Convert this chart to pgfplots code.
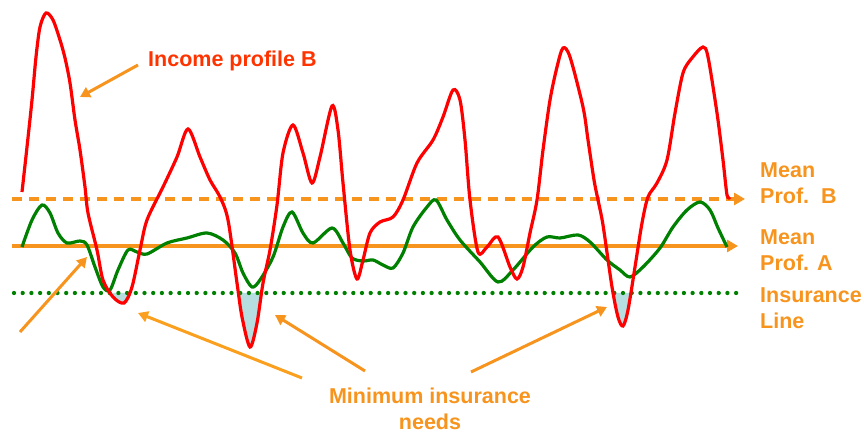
\documentclass[border=0pt]{standalone}
\usepackage{pgfplots}
\pgfplotsset{compat=1.18}
\usepgfplotslibrary{fillbetween}
\usetikzlibrary{arrows.meta}
\usepackage{fontspec}
\setmainfont{Liberation Sans}

\definecolor{profred}{RGB}{255,0,0}
\definecolor{profgreen}{RGB}{0,128,0}
\definecolor{meanorange}{RGB}{247,148,30}
\definecolor{arroworange}{RGB}{250,160,30}
\definecolor{titlered}{RGB}{255,51,0}
\definecolor{needfill}{RGB}{182,221,224}

% pixel coordinates of the reference, y measured from the bottom
\pgfplotstableread{
x y
22 243
27 288
32 335
36 378
40 408
46 422
53 415
60 395
65 377
70 352
75 315
80 285
85 248
88 222
97 185
103 155
113 138
124 132
132 148
140 185
147 215
163 248
177 278
188 306
200 278
210 255
220 238
228 215
237 152
242 118
250 88
257 112
263 152
270 185
277 230
283 282
293 310
303 282
312 252
320 278
332 329
338 305
343 252
350 185
357 156
363 175
370 202
380 213
393 218
403 235
417 272
433 295
443 318
453 345
460 335
465 295
470 235
478 183
487 188
498 198
510 168
517 156
523 168
530 202
537 235
543 285
550 335
557 368
563 387
570 378
583 328
588 295
594 255
598 235
603 210
612 148
618 118
623 109
628 125
635 168
642 212
648 238
657 252
667 275
675 322
683 362
692 377
703 388
708 378
717 322
723 275
727 240
730 238
}\profB

\pgfplotstableread{
x y
22 188
32 215
42 230
50 222
58 202
67 192
80 194
87 190
95 168
103 148
110 145
118 165
128 185
137 183
147 181
167 192
187 197
207 202
223 195
235 182
243 162
252 148
260 155
273 178
283 208
292 223
303 202
313 192
332 207
343 192
352 177
363 174
373 175
383 170
393 167
403 182
413 208
427 228
436 235
447 215
460 195
480 173
498 153
513 165
533 188
547 198
560 197
578 200
590 193
607 175
620 165
630 158
643 168
660 187
673 208
687 225
700 233
710 225
718 207
727 188
}\profA

\begin{document}
\begin{tikzpicture}
\begin{axis}[
  x=1pt, y=1pt,
  xmin=0, xmax=864, ymin=0, ymax=435,
  hide axis,
  clip=false,
]

% insurance line and the shortfall of profile B below it
\addplot[name path=ins, draw=none] coordinates {(12,142) (737,142)};
\addplot[name path=redpath, draw=none, smooth, tension=0.5] table {\profB};
\addplot[fill=needfill, draw=none] fill between[of=redpath and ins, split,
  every even segment/.style={fill opacity=0}];

\addplot[profgreen, line width=4.3pt, line cap=round,
  dash pattern=on 0pt off 8.7pt] coordinates {(14,142) (737,142)};

% means
\addplot[meanorange, line width=3.5pt, dash pattern=on 10pt off 7pt,
  -{Triangle[length=11pt,width=12pt]}] coordinates {(12,236) (745,236)};
\addplot[meanorange, line width=3.5pt,
  -{Triangle[length=11pt,width=12pt]}] coordinates {(12,189) (738,189)};

% profiles
\addplot[profgreen, line width=3.2pt, smooth, tension=0.5] table {\profA};
\addplot[profred, line width=3.2pt, smooth, tension=0.5] table {\profB};

% annotations
\begin{scope}[line width=3pt, -{Triangle[length=10pt,width=11pt]}]
  \draw[meanorange] (axis cs:138,370) -- (axis cs:80,338);
  \draw[meanorange] (axis cs:20,103) -- (axis cs:87,178);
  \draw[arroworange] (axis cs:302,57) -- (axis cs:138,122);
  \draw[meanorange] (axis cs:365,64) -- (axis cs:275,120);
  \draw[meanorange] (axis cs:471,63) -- (axis cs:607,128);
\end{scope}

\begin{scope}[font=\fontsize{21.5}{25}\selectfont\bfseries, inner sep=0pt]
  \node[titlered, anchor=base west] at (axis cs:148,368) {Income profile B};
  \node[meanorange, anchor=base west] at (axis cs:760,257) {Mean};
  \node[meanorange, anchor=base west] at (axis cs:760,231) {Prof.\ \ B};
  \node[meanorange, anchor=base west] at (axis cs:760,190) {Mean};
  \node[meanorange, anchor=base west] at (axis cs:760,164) {Prof. A};
  \node[meanorange, anchor=base west] at (axis cs:760,132) {Insurance};
  \node[meanorange, anchor=base west] at (axis cs:760,106) {Line};
  \node[meanorange, anchor=base] at (axis cs:430,31) {Minimum insurance};
  \node[meanorange, anchor=base] at (axis cs:430,5) {needs};
\end{scope}
\end{axis}
\pgfresetboundingbox
\path (0,0) rectangle (864pt,435pt);
\end{tikzpicture}
\end{document}
